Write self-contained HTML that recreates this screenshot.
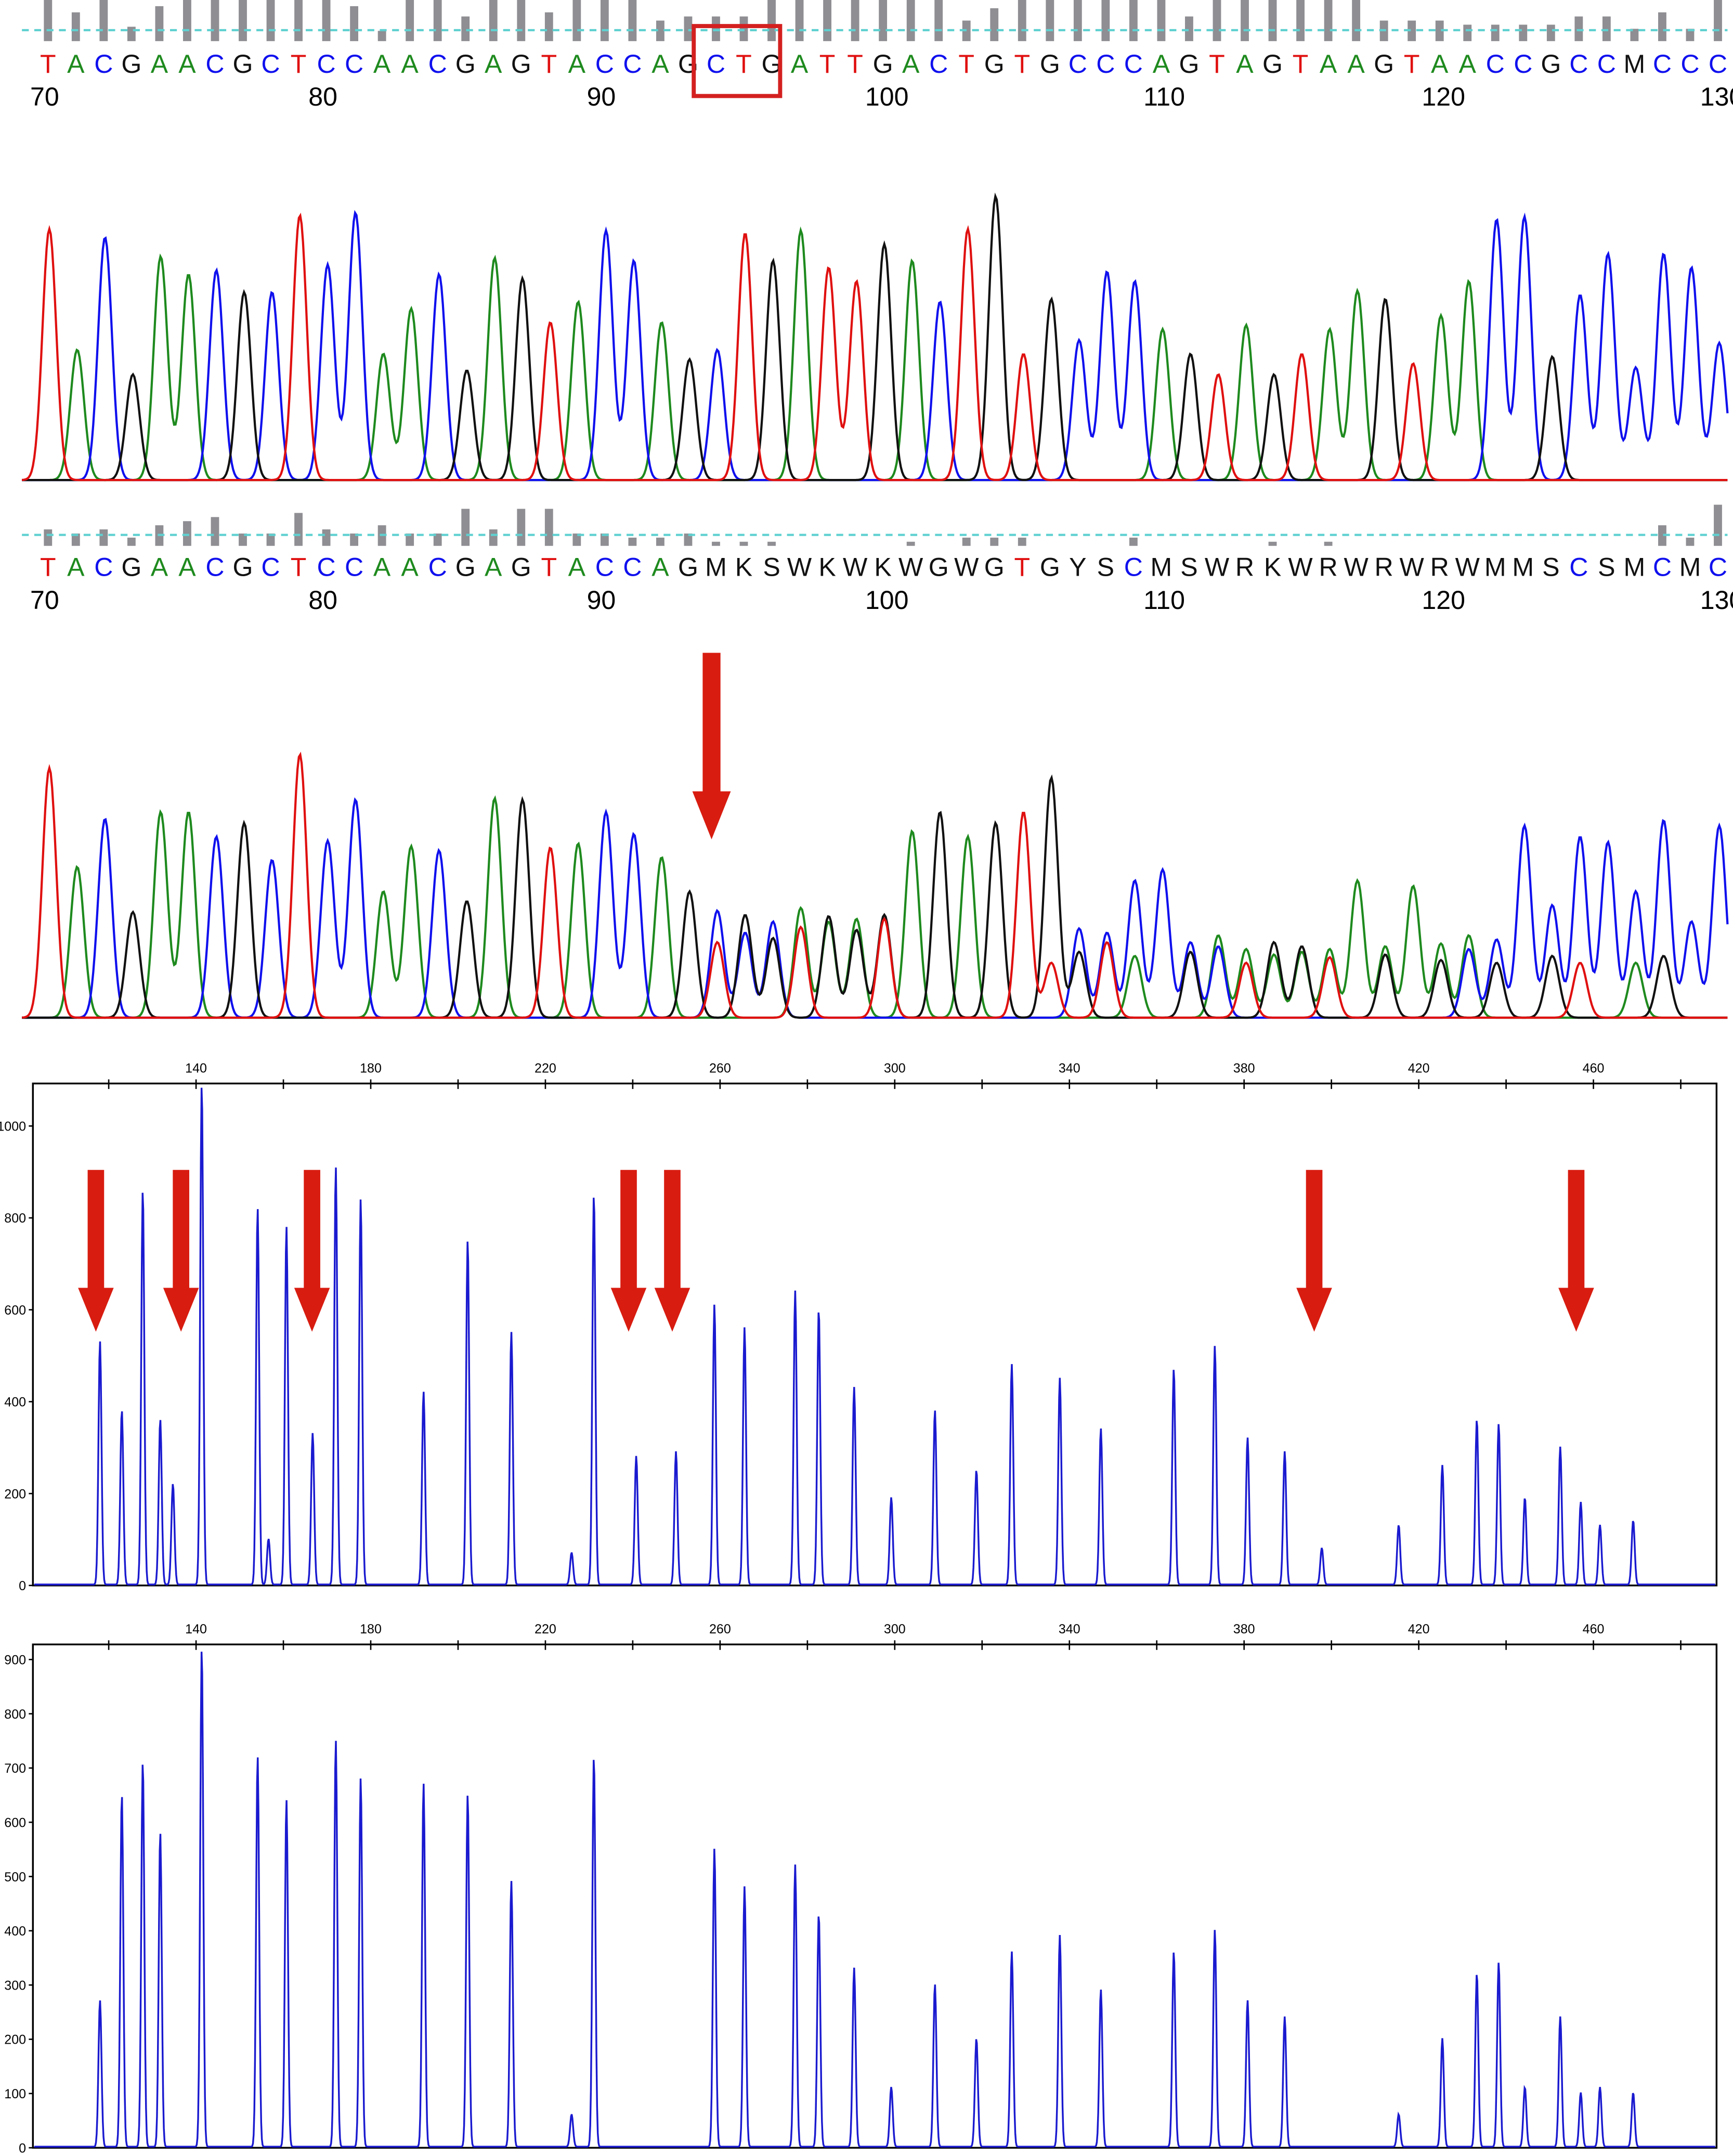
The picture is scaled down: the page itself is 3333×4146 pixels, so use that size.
<!DOCTYPE html>
<html><head><meta charset="utf-8"><style>
html,body{margin:0;padding:0;background:#fff;width:3333px;height:4146px;overflow:hidden}
svg{display:block}
text{font-family:"Liberation Sans",sans-serif}
</style></head><body>
<svg id="fig" width="3333" height="4146" viewBox="0 0 1264 1572" preserveAspectRatio="none" xmlns="http://www.w3.org/2000/svg">
<g id="p1"></g>
<g id="p2"></g>
<g id="p3"></g>
<g id="p4"></g>
</svg>
<script>
// ---------- data ----------
const seq1 = "TACGAACGCTCCAACGAGTACCAGCTGATTGACTGTGCCCAGTAGTAAGTAACCGCCMCCC";
const seq2 = "TACGAACGCTCCAACGAGTACCAGMKSWKWKWGWGTGYSCMSWRKWRWRWRWMMSCSMCMC";
const seqPosLabels = [70,80,90,100,110,120,130];
const qual1 = [1,.7,1,.35,.85,1,1,1,1,1,1,.85,.25,1,1,.6,1,1,.7,1,1,1,.5,.6,.6,.6,1,1,1,1,1,1,1,.5,.8,1,1,1,1,1,1,.6,1,1,1,1,1,1,.5,.5,.5,.4,.4,.4,.4,.6,.6,.3,.7,.3,1,1];
const qual2 = [.4,.3,.4,.2,.5,.6,.7,.3,.3,.8,.4,.3,.5,.3,.3,.9,.4,.9,.9,.3,.3,.2,.2,.3,.1,.1,.1,0,0,0,0,.1,0,.2,.2,.2,0,0,0,.2,0,0,0,0,.1,0,.1,0,0,0,0,0,0,0,0,0,0,0,.5,.2,1,.3];
// trace 1 peak heights per base (px above baseline)
const trace1H = [183,95,177,77,163,150,153,137,137,193,157,195,92,125,150,80,162,147,115,130,182,160,115,88,95,180,160,182,155,145,172,160,130,183,207,92,132,102,152,145,110,92,77,113,77,92,110,138,132,85,120,145,190,192,90,135,165,82,165,155,100];
// trace 2 primary peaks per base (px above baseline)
const trace2H = [182,110,145,77,150,150,132,142,115,192,129,159,92,125,122,85,160,159,124,127,150,134,117,92,78,75,70,80,74,72,75,70,80,72,80,150,175,65,62,100,58,55,60,50,55,48,50,50,52,48,54,60,57,90,82,132,80,92,144,70,140];
// secondary peaks in mixed region: [base index, channel(A,C,G,T), height]
const trace2Sec = [[24,3,55],[25,1,62],[26,2,58],[27,3,66],[28,0,70],[29,2,64],[30,3,72],[31,0,66],[32,2,70],[33,0,60],[34,2,62],[36,3,40],[37,2,48],[38,3,55],[39,0,45],[40,1,50],[41,2,48],[42,1,52],[43,3,40],[44,0,46],[45,2,52],[46,3,44],[47,0,50],[48,2,46],[49,0,48],[50,2,42],[51,1,50],[52,2,40],[53,1,50],[54,2,45],[55,3,40],[56,1,48],[57,0,40],[58,2,45]];
// capillary peaks: size (bp) and height (RFU)
const bpU = [118,123,127.8,131.8,134.7,141.3,154.1,156.6,160.7,166.7,172,177.7,192.1,202.2,212.2,226,231.1,240.8,249.9,258.7,265.6,277.2,282.6,290.7,299.2,309.2,318.7,326.8,337.8,347.2,363.9,373.3,380.8,389.3,397.8,415.4,425.4,433.3,438.3,444.3,452.4,457.1,461.5,469.1];
const rfuU = [530,380,860,360,220,1090,820,100,780,330,910,840,420,750,550,70,850,280,290,610,560,640,600,430,190,380,250,480,450,340,470,520,320,290,80,130,260,360,350,190,300,180,130,140];
const bpL = [118,123,127.8,131.8,141.3,154.1,160.7,172,177.7,192.1,202.2,212.2,226,231.1,258.7,265.6,277.2,282.6,290.7,299.2,309.2,318.7,326.8,337.8,347.2,363.9,373.3,380.8,389.3,415.4,425.4,433.3,438.3,444.3,452.4,457.1,461.5,469.1];
const rfuL = [270,650,710,580,920,720,640,750,680,670,650,490,60,720,550,480,520,430,330,110,300,200,360,390,290,360,400,270,240,60,200,320,340,110,240,100,110,100];
const xTicks = [140,180,220,260,300,340,380,420,460];
const yTicksU = [0,200,400,600,800,1000];
const yTicksL = [0,100,200,300,400,500,600,700,800,900];
const arrowU = [118,137.5,167.5,240,250,397,457];

const NS="http://www.w3.org/2000/svg";
function mk(tag,attrs,parent){const e=document.createElementNS(NS,tag);for(const k in attrs)e.setAttribute(k,attrs[k]);parent.appendChild(e);return e;}
const colMap={A:"#1e8a1e",C:"#1010ee",G:"#111",T:"#e01010"};
const chColors=["#1e8a1e","#1010ee","#111","#e01010"];
const chIdx={A:0,C:1,G:2,T:3};
const baseX=i=>35+20.3*i;

function seqPanel(g,seq,qual,barTop,barBot,dashY,letY,numY){
  const gb=mk("g",{},g);
  
  
  qual.forEach((q,i)=>{ if(q<=0) return; const h=(barBot-barTop)*q;
    const r=mk("rect",{x:baseX(i)-3,y:barBot-h,width:6,height:h,fill:"#8e8e93"},gb);
    
    });
  const dl=mk("line",{x1:16,x2:1260,y1:dashY,y2:dashY,stroke:"#5fd0d0","stroke-width":1.6,"stroke-dasharray":"5,4"},g);
  
  
  const gt=mk("g",{},g);
  
  
  for(let i=0;i<seq.length;i++){const c=seq[i];
    const t=mk("text",{x:baseX(i),y:letY,"text-anchor":"middle","font-size":19,fill:colMap[c]||"#111"},gt);
    t.textContent=c;
    
    }
  seqPosLabels.forEach(p=>{const t=mk("text",{x:baseX(p-70)-13,y:numY,"font-size":19,fill:"#000"},g);
    t.textContent=p;
    
    });
}
function trace(g,peaks,base,sig){
  for(let ch=0;ch<4;ch++){
    let d="";
    for(let x=16;x<=1260;x+=1){let y=0;
      peaks.forEach(p=>{if(p[1]===ch){const dx=x-p[0];if(Math.abs(dx)<30)y+=p[2]*Math.exp(-dx*dx/(2*sig*sig));}});
      d+=(x===16?"M":"L")+x+","+(base-y-1).toFixed(1);}
    const path=mk("path",{d:d,fill:"none",stroke:chColors[ch],"stroke-width":1.6},g);
    
    
  }
}
// panel 1
const p1=document.getElementById("p1");
seqPanel(p1,seq1,qual1,0,30,22,53,77);
const pk1=[];for(let i=0;i<seq1.length;i++){const c=seq1[i];const ch=chIdx[c]!==undefined?chIdx[c]:1;pk1.push([baseX(i)+1,ch,trace1H[i]]);}
trace(p1,pk1,351,5);
const box=mk("rect",{x:506,y:19,width:63,height:51,fill:"none",stroke:"#d42020","stroke-width":3},p1);


// panel 2
const p2=document.getElementById("p2");
seqPanel(p2,seq2,qual2,368,398,390,420,444);
const amb={M:1,K:2,S:1,W:0,R:0,Y:1};
const pk2=[];for(let i=0;i<seq2.length;i++){const c=seq2[i];const ch=chIdx[c]!==undefined?chIdx[c]:amb[c];pk2.push([baseX(i)+1,ch,trace2H[i]]);}
trace2Sec.forEach(s=>pk2.push([baseX(s[0])+1,s[1],s[2]]));
trace(p2,pk2,743,5);
function arrow(g,x,y1,y2,sw,hw,hl,name){
  const a=mk("polygon",{points:`${x-sw/2},${y1} ${x+sw/2},${y1} ${x+sw/2},${y2-hl} ${x+hw/2},${y2-hl} ${x},${y2} ${x-hw/2},${y2-hl} ${x-sw/2},${y2-hl}`,fill:"#d81c10"},g);
  
  
}
arrow(p2,519,476,612,13,28,35,'mutation-arrow');
// capillary charts
const xs=bp=>143+(bp-140)*3.185;
function capChart(g,top,bot,ymax,yTicks,bps,rfus,clipTop){
  const L=24,R=1252;
  const ys=v=>bot-(v/ymax)*(bot-top-ymax*0+0);
  const yScale=v=>bot-v*(bot-clipTop)/ymax;
  const fr=mk("rect",{x:L,y:top,width:R-L,height:bot-top,fill:"#fff",stroke:"#000","stroke-width":1.3},g);
  
  
  for(let v=120;v<=480;v+=20){const x=xs(v);if(x<L||x>R)continue;
    const tk=mk("line",{x1:x,x2:x,y1:top-3,y2:top+4,stroke:"#000","stroke-width":1},g);
    
    }
  xTicks.forEach(v=>{const t=mk("text",{x:xs(v),y:top-8,"text-anchor":"middle","font-size":9.5,fill:"#000"},g);
    t.textContent=v;
    
    });
  yTicks.forEach(v=>{const y=yScale(v);
    const tk=mk("line",{x1:L-3,x2:L,y1:y,y2:y,stroke:"#000","stroke-width":1},g);
    
    
    const t=mk("text",{x:L-5,y:y+3.5,"text-anchor":"end","font-size":9.5,fill:"#000"},g);
    t.textContent=v;
    
    });
  let d="";
  for(let x=L+1;x<=R-1;x+=0.5){let y=2;
    bps.forEach((b,i)=>{const dx=x-xs(b);if(Math.abs(dx)<12)y+=rfus[i]*Math.exp(-dx*dx/(2*1.1*1.1));});
    const py=Math.max(top+1,yScale(y));
    d+=(x===L+1?"M":"L")+x+","+py.toFixed(1);}
  const p=mk("path",{d:d,fill:"none",stroke:"#1a1ad0","stroke-width":1.3},g);
  
  
}
const p3=document.getElementById("p3");
capChart(p3,790,1156,1000,yTicksU,bpU,rfuU,821);
arrowU.forEach(b=>arrow(p3,xs(b)-3,853,971,12,26,32,'peak-loss-arrow'));
const p4=document.getElementById("p4");
capChart(p4,1199,1566,900,yTicksL,bpL,rfuL,1210);
</script>
</body></html>
